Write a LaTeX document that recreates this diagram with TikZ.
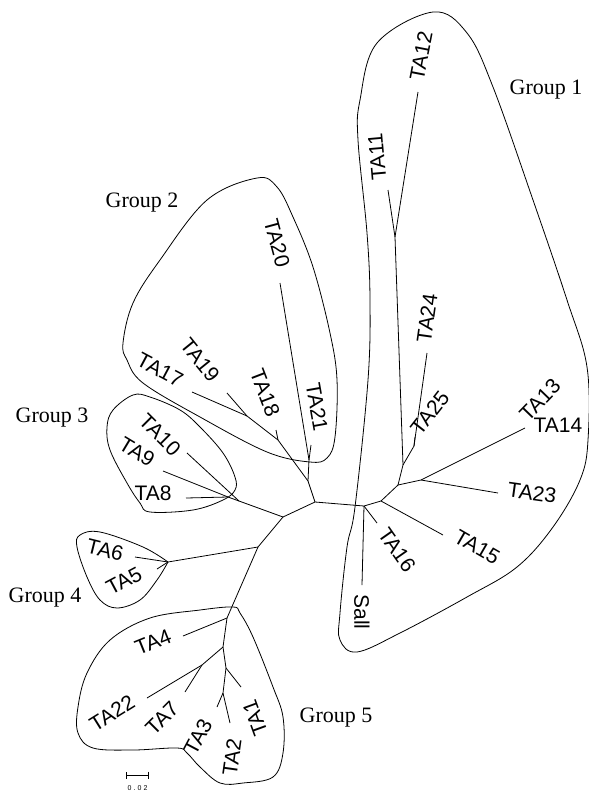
\documentclass[tikz,border=0pt]{standalone}
\usepackage{fontspec}
\setmainfont{Liberation Serif}
\newfontfamily\leaffont{Liberation Sans}
\usetikzlibrary{arrows.meta}
\tikzset{br/.style={line width=0.8pt}}
\tikzset{hull/.style={line width=0.8pt}}
\tikzset{leaf/.style={font=\leaffont\fontsize{21}{21}\selectfont, inner sep=0pt, anchor=center}}
\tikzset{grp/.style={font=\fontsize{22}{22}\selectfont, inner sep=0pt, anchor=center}}

\begin{document}
\begin{tikzpicture}[x=1pt, y=-1pt, line join = round]
\useasboundingbox (0,0) rectangle (589,793);

% inner nodes
\coordinate (A) at (315,502);
\coordinate (B) at (364,506);
\coordinate (C) at (381,501);
\coordinate (D) at (398,485);
\coordinate (E) at (403,465);
\coordinate (F) at (421,480);
\coordinate (G) at (414,446);
\coordinate (W) at (395,237);
\coordinate (H) at (283,517);
\coordinate (K) at (239,501);
\coordinate (K2) at (228,497);
\coordinate (L) at (308,481);
\coordinate (N) at (309,460);
\coordinate (M2) at (278,440);
\coordinate (M1) at (247,416);
\coordinate (J) at (258,547);
\coordinate (P) at (168,562);
\coordinate (R) at (227,618);
\coordinate (S) at (223,647);
\coordinate (T) at (202,665);
\coordinate (U) at (226,668);
\coordinate (V) at (223,693);

% tips
\coordinate (Sall) at (362,585);
\coordinate (TA16) at (377,523);
\coordinate (TA15) at (443,535);
\coordinate (TA23) at (498,493);
\coordinate (TA14) at (525,428);
\coordinate (TA25) at (415,437);
\coordinate (TA24) at (427,353);
\coordinate (TA11) at (388,190);
\coordinate (TA12) at (418,92);
\coordinate (TA21) at (311,445);
\coordinate (TA20) at (280,283);
\coordinate (TA18) at (276,430);
\coordinate (TA19) at (227,393);
\coordinate (TA17) at (192,392);
\coordinate (TA10) at (187,453);
\coordinate (TA9) at (163,471);
\coordinate (TA8) at (186,498);
\coordinate (TA6) at (135,557);
\coordinate (TA5) at (157,569);
\coordinate (TA4) at (183,636);
\coordinate (TA22) at (147,698);
\coordinate (TA7) at (185,692);
\coordinate (TA1) at (241,687);
\coordinate (TA3) at (217,707);
\coordinate (TA2) at (230,723);

\draw[br] (A) -- (B) -- (Sall);
\draw[br] (B) -- (TA16);
\draw[br] (B) -- (C) -- (TA15);
\draw[br] (C) -- (D) -- (F) -- (TA14);
\draw[br] (F) -- (TA23);
\draw[br] (D) -- (E) -- (W) -- (TA12);
\draw[br] (W) -- (TA11);
\draw[br] (E) -- (G) -- (TA24);
\draw[br] (G) -- (TA25);
\draw[br] (A) -- (L) -- (N) -- (TA20);
\draw[br] (N) -- (TA21);
\draw[br] (L) -- (M2) -- (M1) -- (TA19);
\draw[br] (M2) -- (TA18);
\draw[br] (M1) -- (TA17);
\draw[br] (A) -- (H) -- (K) -- (TA10);
\draw[br] (K) -- (K2) -- (TA9);
\draw[br] (K2) -- (TA8);
\draw[br] (H) -- (J) -- (P) -- (TA6);
\draw[br] (P) -- (TA5);
\draw[br] (J) -- (R) -- (TA4);
\draw[br] (R) -- (S) -- (T) -- (TA22);
\draw[br] (T) -- (TA7);
\draw[br] (S) -- (U) -- (TA1);
\draw[br] (U) -- (V) -- (TA3);
\draw[br] (V) -- (TA2);

% leaf labels
\node[leaf, rotate=-90] (lSall) at (362,612) {Sall};
\node[leaf, rotate=-55] (lTA16) at (397,550) {TA16};
\node[leaf, rotate=-30] (lTA15) at (477,547) {TA15};
\node[leaf, rotate=-8] (lTA23) at (532,493) {TA23};
\node[leaf] (lTA14) at (558,425) {TA14};
\node[leaf, rotate=46] (lTA13) at (540,400) {TA13};
\node[leaf, rotate=52] (lTA25) at (430,413) {TA25};
\node[leaf, rotate=82] (lTA24) at (427,318) {TA24};
\node[leaf, rotate=95] (lTA11) at (377,157) {TA11};
\node[leaf, rotate=79] (lTA12) at (421,56) {TA12};
\node[leaf, rotate=-80] (lTA21) at (317,407) {TA21};
\node[leaf, rotate=-75] (lTA20) at (277,243) {TA20};
\node[leaf, rotate=-69] (lTA18) at (265,393) {TA18};
\node[leaf, rotate=-51] (lTA19) at (200,360) {TA19};
\node[leaf, rotate=-28] (lTA17) at (160,370) {TA17};
\node[leaf, rotate=-45] (lTA10) at (160,435) {TA10};
\node[leaf, rotate=-31] (lTA9) at (137,452) {TA9};
\node[leaf] (lTA8) at (153,493) {TA8};
\node[leaf, rotate=-14] (lTA6) at (105,550) {TA6};
\node[leaf, rotate=28] (lTA5) at (124,581) {TA5};
\node[leaf, rotate=22] (lTA4) at (153,642) {TA4};
\node[leaf, rotate=32] (lTA22) at (112,713) {TA22};
\node[leaf, rotate=45] (lTA7) at (162,718) {TA7};
\node[leaf, rotate=62] (lTA3) at (198,737) {TA3};
\node[leaf, rotate=82] (lTA2) at (232,757) {TA2};
\node[leaf, rotate=110] (lTA1) at (255,718) {TA1};

% groups
\draw[hull] plot[smooth cycle, tension=0.6] coordinates {(433,12) (467,33) (493,87) (533,200) (567,300) (587,367) (588,440) (580,480) (553,527) (517,567) (467,597) (400,633) (357,652) (340,640) (340,613) (347,547) (355,507) (368,380) (370,300) (367,233) (358,140) (360,100) (377,43)};
\draw[hull] plot[smooth cycle, tension=0.6] coordinates {(257,178) (277,187) (293,217) (313,267) (330,333) (337,380) (335,437) (327,458) (310,462) (267,452) (200,417) (143,383) (127,360) (123,343) (133,303) (160,260) (207,200)};
\draw[hull] plot[smooth cycle, tension=0.6] coordinates {(133,395) (150,397) (180,410) (200,427) (223,453) (235,477) (235,490) (223,500) (193,510) (150,512) (140,503) (127,483) (110,450) (107,427) (113,410)};
\draw[hull] plot[smooth, tension=0.6] coordinates {(P) (143,547) (100,532) (80,535) (77,547) (87,577) (100,600) (117,608) (140,600) (157,580) (P)};
\draw[hull] plot[smooth cycle, tension=0.6] coordinates {(233,607) (240,613) (253,637) (273,687) (283,717) (283,753) (273,777) (243,783) (220,783) (200,767) (187,753) (177,748) (133,750) (93,748) (78,733) (78,707) (87,673) (110,640) (150,618) (200,610)};

\node[grp] (g1) at (546,90) {Group 1};
\node[grp] (g2) at (142,203) {Group 2};
\node[grp] (g3) at (52,418) {Group 3};
\node[grp] (g4) at (45,598) {Group 4};
\node[grp] (g5) at (336,718) {Group 5};

% scale bar
\coordinate (sb1) at (126,775);
\coordinate (sb2) at (149,775);
\draw[line width=0.7pt, {Bar[width=7pt]}-{Bar[width=7pt]}] (sb1) -- (sb2);
\node[inner sep=0pt, font=\leaffont\addfontfeature{LetterSpace=30}\fontsize{7}{7}\selectfont] (sbl) at (137.5,788) {0.02};

\end{tikzpicture}
\end{document}
